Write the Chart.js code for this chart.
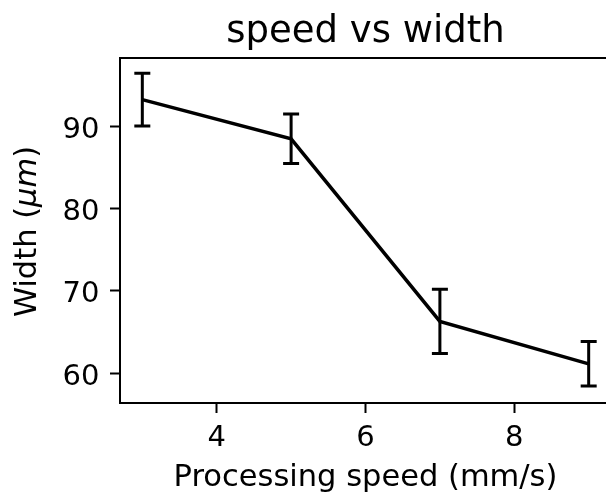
<!DOCTYPE html>
<html>
<head>
<meta charset="utf-8">
<script src="https://cdn.jsdelivr.net/npm/chart.js@4.4.1/dist/chart.umd.min.js"></script>
<style>
  html, body { margin: 0; padding: 0; background: #fff; overflow: hidden; }
  #wrap { width: 606px; height: 497px; overflow: hidden; }
  canvas { display: block; }
</style>
</head>
<body>
<div id="wrap"><canvas id="c" width="620" height="497"></canvas></div>
<script>
// ---- data ----
const speeds = [3, 5, 7, 9];
const widthMean = [93.2, 88.45, 66.3, 61.15];
const widthErr = [3.2, 3.0, 3.9, 2.7];
const xTicks = [4, 6, 8];
const yTicks = [60, 70, 80, 90];

const FONT = "'DejaVu Sans', sans-serif";
const TICK_SIZE = 29;
const LABEL_SIZE = 30.5;

const points = speeds.map((s, i) => ({ x: s, y: widthMean[i] }));

const errorBars = {
  id: 'errorBars',
  afterDatasetsDraw(chart) {
    const { ctx, scales: { x, y } } = chart;
    ctx.save();
    ctx.strokeStyle = '#000';
    ctx.lineWidth = 3;
    ctx.lineCap = 'butt';
    speeds.forEach((s, i) => {
      const px = x.getPixelForValue(s);
      const top = y.getPixelForValue(widthMean[i] + widthErr[i]);
      const bot = y.getPixelForValue(widthMean[i] - widthErr[i]);
      ctx.beginPath();
      ctx.moveTo(px, top); ctx.lineTo(px, bot);
      ctx.moveTo(px - 8, top); ctx.lineTo(px + 8, top);
      ctx.moveTo(px - 8, bot); ctx.lineTo(px + 8, bot);
      ctx.stroke();
    });
    ctx.restore();
  }
};

// frame + y tick labels (centred on the digits, like matplotlib) + y axis label with italic unit
const frameAndYAxis = {
  id: 'frameAndYAxis',
  afterDraw(chart) {
    const { ctx, chartArea: a, scales: { y } } = chart;
    ctx.save();
    ctx.strokeStyle = '#000';
    ctx.lineWidth = 2;
    ctx.strokeRect(a.left, a.top, a.right - a.left, a.bottom - a.top);

    ctx.fillStyle = '#000';
    ctx.font = TICK_SIZE + 'px ' + FONT;
    ctx.textAlign = 'right';
    ctx.textBaseline = 'alphabetic';
    yTicks.forEach(v => {
      const py = y.getPixelForValue(v);
      ctx.fillText(String(v), a.left - 20.5, py + 0.364 * TICK_SIZE + 1);
    });

    // y axis title, rotated
    const parts = [
      { t: 'Width (', f: LABEL_SIZE + 'px ' + FONT },
      { t: 'μm', f: 'italic ' + LABEL_SIZE + 'px ' + FONT },
      { t: ')', f: LABEL_SIZE + 'px ' + FONT }
    ];
    let total = 0;
    parts.forEach(p => { ctx.font = p.f; p.w = ctx.measureText(p.t).width; total += p.w; });
    const cy = (a.top + a.bottom) / 2 + 1;
    ctx.translate(36, cy);
    ctx.rotate(-Math.PI / 2);
    ctx.textAlign = 'left';
    let xx = -total / 2;
    parts.forEach(p => { ctx.font = p.f; ctx.fillText(p.t, xx, 0); xx += p.w; });
    ctx.restore();
  }
};

new Chart(document.getElementById('c'), {
  type: 'line',
  data: {
    datasets: [{
      data: points,
      borderColor: '#000',
      borderWidth: 3.5,
      pointRadius: 0,
      tension: 0,
      fill: false
    }]
  },
  options: {
    responsive: false,
    animation: false,
    devicePixelRatio: 1,
    layout: { padding: { top: 0, left: 0, right: 9, bottom: 0 } },
    plugins: {
      legend: { display: false },
      tooltip: { enabled: false },
      title: {
        display: true,
        text: 'speed vs width',
        color: '#000',
        fullSize: false,
        font: { family: FONT, size: 37, weight: 'normal' },
        padding: { top: 10, bottom: 3.6 }
      }
    },
    scales: {
      x: {
        type: 'linear',
        min: 2.7,
        max: 9.3,
        afterBuildTicks: (sc) => { sc.ticks = xTicks.map(v => ({ value: v })); },
        afterFit: (sc) => { sc.height = 94; },
        border: { display: false },
        grid: { drawOnChartArea: false, drawTicks: true, tickLength: 10, tickColor: '#000', tickWidth: 2 },
        ticks: { color: '#000', padding: 7.7, font: { family: FONT, size: TICK_SIZE }, maxRotation: 0 },
        title: {
          display: true,
          text: 'Processing speed (mm/s)',
          color: '#000',
          font: { family: FONT, size: LABEL_SIZE },
          padding: { top: 0, bottom: 1.1 }
        }
      },
      y: {
        type: 'linear',
        min: 56.4,
        max: 98.25,
        afterBuildTicks: (sc) => { sc.ticks = yTicks.map(v => ({ value: v })); },
        afterFit: (sc) => { sc.width = 120; },
        border: { display: false },
        grid: { drawOnChartArea: false, drawTicks: true, tickLength: 10, tickColor: '#000', tickWidth: 2 },
        ticks: { display: false },
        title: { display: false }
      }
    }
  },
  plugins: [errorBars, frameAndYAxis]
});
</script>
</body>
</html>
